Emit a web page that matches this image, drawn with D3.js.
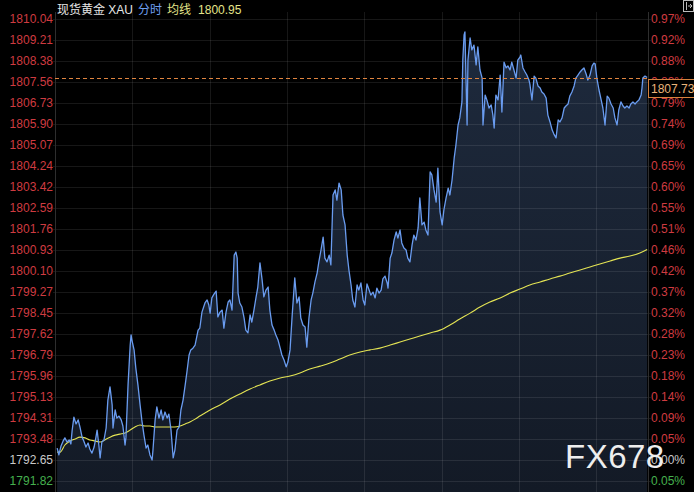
<!DOCTYPE html>
<html>
<head>
<meta charset="utf-8">
<script src="https://cdn.jsdelivr.net/npm/d3@7"></script>
<style>
html,body{margin:0;padding:0;background:#000;}
svg{display:block;}
</style>
</head>
<body>
<script>
// ---- data ----
const tickLabels = ["1810.04","1809.21","1808.38","1807.56","1806.73","1805.90","1805.07","1804.24","1803.42","1802.59","1801.76","1800.93","1800.10","1799.27","1798.45","1797.62","1796.79","1795.96","1795.13","1794.31","1793.48","1792.65","1791.82"];
const pctLabels = ["0.97%","0.92%","0.88%","0.83%","0.79%","0.74%","0.69%","0.65%","0.60%","0.55%","0.51%","0.46%","0.42%","0.37%","0.32%","0.28%","0.23%","0.18%","0.14%","0.09%","0.05%","0.00%","0.05%"];
const baseIndex = 21; // 1792.65 = previous close
const gridMinutes = [180,360,540,720,900,1080,1260];
const sessionMinutes = 1380;
const lastPrice = 1807.73;
const avgLast = "1800.95";

const priceTimes = [5,9,14,19,23,28,33,37,40,44,49,54,58,63,67,72,77,81,86,91,95,98,102,105,109,114,119,123,128,133,135,140,144,149,154,158,163,165,170,175,177,179,184,188,193,198,202,207,212,216,221,226,228,233,237,242,247,251,256,261,265,270,275,279,284,289,293,298,303,307,312,316,321,326,333,337,342,349,354,358,361,365,370,375,379,384,389,393,398,403,407,412,417,421,424,426,430,435,440,444,449,454,458,463,468,472,477,482,486,491,496,500,505,510,514,519,524,528,533,538,542,547,552,556,558,563,568,572,577,582,586,591,596,600,605,610,614,619,624,628,633,638,642,647,652,656,661,666,670,675,680,684,689,693,698,703,707,712,717,721,726,731,735,740,745,749,754,759,763,768,773,775,780,784,789,794,798,803,807,812,817,821,826,831,835,840,845,849,854,859,863,868,873,877,882,887,891,896,901,905,910,915,919,924,929,933,938,942,947,949,952,954,956,959,961,966,970,975,980,984,989,994,996,1001,1005,1010,1015,1019,1022,1026,1031,1036,1040,1045,1050,1054,1059,1063,1068,1073,1077,1082,1084,1089,1094,1098,1103,1105,1110,1115,1119,1124,1129,1133,1138,1143,1147,1152,1157,1161,1166,1171,1175,1180,1185,1189,1194,1198,1203,1208,1212,1217,1222,1226,1231,1236,1240,1245,1250,1254,1257,1261,1266,1271,1275,1280,1285,1289,1294,1299,1303,1308,1312,1317,1322,1326,1331,1336,1340,1345,1350,1354,1359,1364,1366,1368,1373,1378];
const prices = [1793.12,1792.85,1793.20,1793.40,1793.52,1793.36,1793.44,1793.28,1793.83,1794.34,1794.07,1794.23,1793.95,1793.55,1793.40,1793.16,1793.32,1793.08,1792.92,1793.16,1793.52,1793.83,1793.24,1792.73,1793.36,1793.44,1793.91,1795.01,1795.53,1794.82,1793.91,1794.62,1794.30,1794.38,1794.23,1793.99,1793.24,1793.52,1795.61,1797.18,1797.58,1797.38,1796.99,1796.28,1795.61,1794.82,1794.23,1793.63,1793.12,1793.24,1792.85,1792.65,1793.04,1794.23,1794.74,1794.30,1794.62,1794.23,1794.54,1794.30,1794.46,1793.83,1792.73,1793.04,1793.83,1793.95,1794.62,1795.01,1795.61,1796.12,1796.79,1796.99,1797.06,1797.18,1797.77,1797.85,1798.48,1798.84,1798.96,1798.76,1798.44,1799.04,1799.19,1799.31,1798.29,1798.48,1798.56,1797.85,1798.48,1798.88,1798.96,1798.56,1800.73,1800.85,1800.61,1799.23,1798.84,1798.68,1798.25,1797.77,1797.66,1798.37,1798.09,1798.56,1799.08,1799.47,1800.42,1799.75,1799.08,1799.35,1799.47,1798.56,1797.97,1797.77,1797.58,1797.38,1797.06,1796.79,1796.59,1796.32,1796.51,1796.99,1798.37,1799.35,1799.83,1798.84,1799.08,1798.25,1797.97,1797.89,1797.10,1798.25,1798.96,1799.23,1799.67,1800.02,1800.46,1800.93,1801.44,1800.61,1800.46,1800.73,1800.34,1803.10,1803.30,1802.90,1803.57,1803.30,1802.31,1801.92,1800.73,1800.14,1799.55,1798.96,1798.68,1799.55,1799.35,1799.63,1798.96,1798.76,1799.59,1799.35,1799.15,1799.27,1799.04,1799.43,1799.23,1799.35,1799.79,1799.90,1799.63,1799.43,1800.61,1800.81,1801.32,1801.64,1801.40,1801.72,1801.21,1801.01,1800.93,1800.61,1800.46,1801.13,1801.52,1801.32,1801.80,1802.98,1801.92,1802.03,1801.72,1801.52,1804.01,1803.89,1803.30,1802.82,1804.16,1802.43,1801.92,1802.51,1802.98,1803.37,1803.10,1803.69,1804.56,1805.07,1805.86,1806.14,1806.77,1808.42,1809.41,1809.53,1808.03,1805.86,1808.42,1809.29,1808.82,1809.01,1808.23,1808.94,1808.03,1807.71,1805.86,1807.04,1806.85,1806.53,1806.65,1806.25,1805.74,1807.04,1806.85,1807.83,1806.37,1808.34,1808.11,1808.19,1808.03,1808.34,1808.03,1807.71,1808.42,1808.54,1808.62,1808.11,1807.95,1807.83,1807.63,1807.48,1806.85,1807.79,1807.71,1807.40,1807.32,1807.16,1807.08,1806.92,1806.25,1805.98,1805.66,1805.50,1805.35,1806.06,1805.98,1806.14,1806.53,1806.61,1806.69,1807.00,1807.16,1807.40,1807.71,1807.83,1807.95,1808.03,1808.11,1807.87,1807.63,1807.83,1808.19,1808.30,1808.27,1807.71,1807.24,1806.85,1806.53,1805.86,1807.00,1806.92,1806.69,1806.53,1806.14,1805.86,1806.45,1806.77,1806.61,1806.53,1806.61,1806.53,1806.69,1806.77,1806.69,1806.77,1806.85,1807.04,1807.32,1807.71,1807.79,1807.73];

const avgTimes = [5,12,23,35,47,58,70,81,93,105,116,128,140,151,163,175,186,198,209,221,233,244,256,268,279,291,303,314,326,337,349,361,384,407,430,454,477,500,524,547,570,593,617,640,663,686,710,733,756,780,803,826,849,873,896,919,942,966,989,1012,1036,1059,1082,1105,1129,1152,1175,1198,1222,1245,1268,1292,1315,1338,1361,1378];
const avgPrices = [1792.96,1792.96,1793.24,1793.40,1793.48,1793.55,1793.52,1793.44,1793.40,1793.36,1793.44,1793.55,1793.63,1793.67,1793.71,1793.83,1793.95,1794.03,1793.99,1793.99,1793.95,1793.95,1793.95,1793.95,1793.95,1793.99,1794.07,1794.15,1794.26,1794.38,1794.50,1794.62,1794.82,1795.05,1795.25,1795.45,1795.61,1795.76,1795.88,1795.96,1796.08,1796.24,1796.35,1796.47,1796.63,1796.79,1796.91,1796.99,1797.06,1797.18,1797.30,1797.42,1797.54,1797.66,1797.77,1797.97,1798.21,1798.44,1798.68,1798.88,1799.04,1799.23,1799.39,1799.55,1799.67,1799.79,1799.90,1800.02,1800.14,1800.26,1800.38,1800.50,1800.61,1800.69,1800.81,1800.95];

// ---- layout ----
const W = 694, H = 492;
const L = 55, R = 648, T = 12;
const tickValues = tickLabels.map(Number);

const x = d3.scaleLinear().domain([0, sessionMinutes]).range([L, R]);
const y = d3.scaleLinear().domain([d3.min(tickValues), d3.max(tickValues)]).range([481, 19]);

const svg = d3.select("body").append("svg").attr("width", W).attr("height", H);
svg.append("rect").attr("width", W).attr("height", H).attr("fill", "#000");

const defs = svg.append("defs");
const grad = defs.append("linearGradient").attr("id","fillg").attr("x1",0).attr("y1",0).attr("x2",0).attr("y2",1);
grad.append("stop").attr("offset","0%").attr("stop-color","#1e2a3d");
grad.append("stop").attr("offset","100%").attr("stop-color","#131a26");

const pts = priceTimes.map((t,i)=>[t, prices[i]]);
const avgPts = avgTimes.map((t,i)=>[t, avgPrices[i]]);

// area
svg.append("path")
  .datum(pts)
  .attr("fill","url(#fillg)")
  .attr("d", d3.area().x(d=>x(d[0])).y0(H).y1(d=>y(d[1])));

// grid
const grid = svg.append("g");
grid.selectAll("line.h").data(tickValues).enter().append("line")
  .attr("x1", L-2).attr("x2", R+3)
  .attr("y1", d=>Math.round(y(d))+0.5).attr("y2", d=>Math.round(y(d))+0.5)
  .attr("stroke","rgba(255,255,255,0.09)").attr("stroke-width",1);
grid.selectAll("line.v").data(gridMinutes).enter().append("line")
  .attr("x1", d=>Math.round(x(d))+0.5).attr("x2", d=>Math.round(x(d))+0.5)
  .attr("y1", T).attr("y2", H)
  .attr("stroke","rgba(255,255,255,0.09)").attr("stroke-width",1);

// borders
svg.append("line").attr("x1",L+0.5).attr("x2",L+0.5).attr("y1",T).attr("y2",H).attr("stroke","#2e2e2e");
svg.append("line").attr("x1",R+0.5).attr("x2",R+0.5).attr("y1",T).attr("y2",H).attr("stroke","#2e2e2e");

// avg line
svg.append("path").datum(avgPts)
  .attr("fill","none").attr("stroke","#e4e454").attr("stroke-width",1.1)
  .attr("d", d3.line().x(d=>x(d[0])).y(d=>y(d[1])).curve(d3.curveMonotoneX));

// price line
svg.append("path").datum(pts)
  .attr("fill","none").attr("stroke","#6a9cf0").attr("stroke-width",1.3)
  .attr("stroke-linejoin","round")
  .attr("d", d3.line().x(d=>x(d[0])).y(d=>y(d[1])));

// last price dashed line
svg.append("line")
  .attr("x1", L).attr("x2", R)
  .attr("y1", Math.round(y(lastPrice))+0.5).attr("y2", Math.round(y(lastPrice))+0.5)
  .attr("stroke","#e0843f").attr("stroke-width",1).attr("stroke-dasharray","4,3");

const font = "Liberation Sans, Arial, 'Noto Sans CJK SC', sans-serif";
function labelColor(i){ return i < baseIndex ? "#cf3b40" : (i === baseIndex ? "#c9c9c9" : "#45b04e"); }

// left axis labels
svg.append("g").selectAll("text").data(tickLabels).enter().append("text")
  .attr("x", 53).attr("y", d=>y(+d)).attr("dy","0.36em")
  .attr("text-anchor","end")
  .attr("font-family", font).attr("font-size", 12)
  .attr("fill", (d,i)=>labelColor(i))
  .text(d=>d);

// right axis labels
svg.append("g").selectAll("text").data(pctLabels).enter().append("text")
  .attr("x", 651).attr("y", (d,i)=>y(tickValues[i])).attr("dy","0.36em")
  .attr("text-anchor","start")
  .attr("font-family", font).attr("font-size", 12)
  .attr("fill", (d,i)=>labelColor(i))
  .text(d=>d);

// last price box
const ly = Math.round(y(lastPrice));
svg.append("rect").attr("x", R+0.5).attr("y", ly+1.5).attr("width", 46).attr("height", 18)
  .attr("fill","#000").attr("stroke","#d7823e").attr("stroke-width",1);
svg.append("text").attr("x", 651).attr("y", ly+10.5).attr("dy","0.36em")
  .attr("font-family", font).attr("font-size", 12).attr("fill","#e9b47a")
  .text(d3.format(".2f")(lastPrice));

// legend
const leg = svg.append("text").attr("x", 57).attr("y", 14)
  .attr("font-family", font).attr("font-size", 12);
leg.append("tspan").attr("fill","#e6e6e6").text("现货黄金 XAU");
leg.append("tspan").attr("fill","#6d9ff0").attr("dx", 5).text("分时");
leg.append("tspan").attr("fill","#e4e48a").attr("dx", 5).text("均线");
leg.append("tspan").attr("fill","#e4e48a").attr("dx", 7).text(avgLast);

// top-right icon
const ic = svg.append("g");
ic.append("rect").attr("x",683.5).attr("y",0.5).attr("width",10).attr("height",11).attr("fill","none").attr("stroke","#bbb");
ic.append("line").attr("x1",686.5).attr("x2",686.5).attr("y1",2).attr("y2",10).attr("stroke","#bbb");
ic.append("path").attr("d","M688,6 L692,6 M690,4 L692,6 L690,8").attr("fill","none").attr("stroke","#bbb");

// watermark
svg.append("text").attr("x", 565).attr("y", 468)
  .attr("font-family", font).attr("font-size", 33).attr("fill","#eeeeee")
  .attr("letter-spacing", 0.5)
  .text("FX678");
</script>
</body>
</html>
